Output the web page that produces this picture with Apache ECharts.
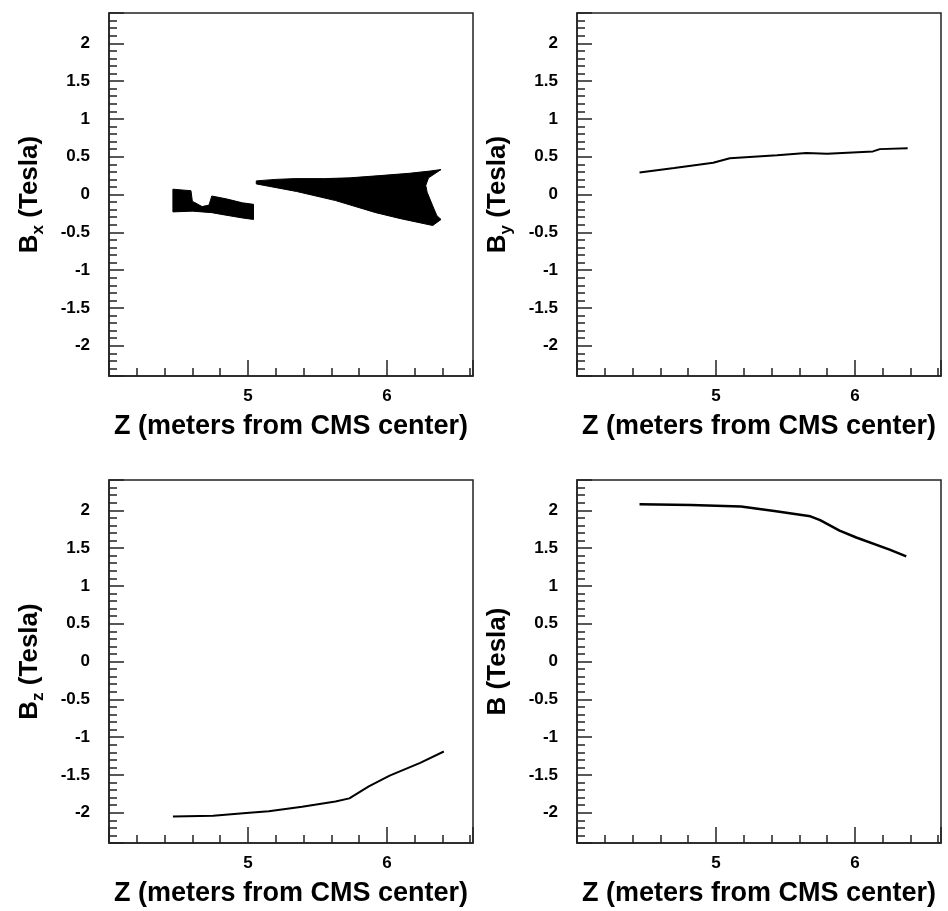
<!DOCTYPE html>
<html>
<head>
<meta charset="utf-8">
<title>CMS field components vs Z</title>
<script src="https://cdn.jsdelivr.net/npm/echarts@6/dist/echarts.min.js"></script>
<style>
  html, body { margin: 0; padding: 0; background: #fff; }
  #chart { width: 948px; height: 911px; }
</style>
</head>
<body>
<div id="chart"></div>
<script>
// Bx is drawn as two filled outlines (z, Tesla)
var bxBlobA = [[4.46, 0.07], [4.59, 0.05], [4.60, -0.09], [4.67, -0.16], [4.72, -0.14],
  [4.74, -0.02], [4.85, -0.06], [4.96, -0.11], [5.04, -0.13], [5.04, -0.33],
  [4.96, -0.31], [4.80, -0.26], [4.74, -0.24], [4.60, -0.22], [4.46, -0.23]];
var bxBlobB = [[5.06, 0.18], [5.20, 0.20], [5.34, 0.21], [5.55, 0.21], [5.73, 0.22],
  [5.95, 0.25], [6.16, 0.28], [6.31, 0.31], [6.39, 0.33], [6.30, 0.22], [6.28, 0.12],
  [6.29, 0.03], [6.33, -0.15], [6.36, -0.28], [6.39, -0.33], [6.33, -0.41],
  [6.10, -0.32], [5.92, -0.24], [5.63, -0.08], [5.35, 0.04], [5.06, 0.14]];
var bxShapes = [bxBlobA, bxBlobB];

var byLine = [[4.45, 0.29], [4.70, 0.35], [4.98, 0.42], [5.10, 0.48], [5.44, 0.52],
  [5.65, 0.55], [5.80, 0.54], [6.13, 0.57], [6.18, 0.60], [6.38, 0.61]];

var bzLine = [[4.46, -2.05], [4.75, -2.04], [5.01, -2.00], [5.15, -1.98], [5.39, -1.92],
  [5.63, -1.85], [5.73, -1.81], [5.87, -1.65], [6.02, -1.51], [6.24, -1.34], [6.41, -1.19]];

var bLine = [[4.45, 2.08], [4.82, 2.07], [5.18, 2.05], [5.42, 1.99], [5.68, 1.92],
  [5.75, 1.87], [5.89, 1.73], [6.01, 1.64], [6.25, 1.48], [6.37, 1.39]];

var yNames = ['{m|B}{s|x}{m| (Tesla)}', '{m|B}{s|y}{m| (Tesla)}',
  '{m|B}{s|z}{m| (Tesla)}', '{m|B (Tesla)}'];
var zRange = [4, 6.62];
var bRange = [-2.4, 2.4];

var font = 'Liberation Sans, Arial, Helvetica, sans-serif';
var frame = '#222';

var grids = [
  {left: 109, top: 13, width: 364, height: 363},
  {left: 577, top: 13, width: 364, height: 363},
  {left: 109, top: 480, width: 364, height: 363},
  {left: 577, top: 480, width: 364, height: 363}
];

function xAxisFor(i) {
  return {
    type: 'value',
    gridIndex: i,
    min: zRange[0],
    max: zRange[1],
    splitNumber: 3,
    name: 'Z (meters from CMS center)',
    nameLocation: 'middle',
    nameGap: 37,
    nameTextStyle: {color: '#000', fontFamily: font, fontWeight: 'bold', fontSize: 27},
    axisLine: {show: true, onZero: false, lineStyle: {color: frame, width: 1.5}},
    axisTick: {show: true, inside: true, length: 16, lineStyle: {color: frame, width: 1.5}},
    minorTick: {show: true, splitNumber: 5, length: 8, lineStyle: {color: frame, width: 1.5}},
    axisLabel: {
      showMinLabel: false, showMaxLabel: false, margin: 12,
      color: '#000', fontFamily: font, fontWeight: 'bold', fontSize: 17
    },
    splitLine: {show: false},
    minorSplitLine: {show: false}
  };
}

function yAxisFor(i) {
  return {
    type: 'value',
    gridIndex: i,
    min: bRange[0],
    max: bRange[1],
    splitNumber: 10,
    name: yNames[i],
    nameLocation: 'middle',
    nameRotate: 90,
    nameGap: 62,
    nameTextStyle: {
      rich: {
        m: {color: '#000', fontFamily: font, fontWeight: 'bold', fontSize: 26, lineHeight: 34},
        s: {color: '#000', fontFamily: font, fontWeight: 'bold', fontSize: 17, lineHeight: 17,
          verticalAlign: 'bottom'}
      }
    },
    axisLine: {show: true, onZero: false, lineStyle: {color: frame, width: 1.5}},
    axisTick: {show: true, inside: true, length: 15, lineStyle: {color: frame, width: 1.5}},
    minorTick: {show: true, splitNumber: 5, length: 8, lineStyle: {color: frame, width: 1.5}},
    axisLabel: {
      showMinLabel: false, showMaxLabel: false, margin: 19,
      color: '#000', fontFamily: font, fontWeight: 'bold', fontSize: 17
    },
    splitLine: {show: false},
    minorSplitLine: {show: false}
  };
}

function lineSeries(i, data, w) {
  return {
    type: 'line',
    xAxisIndex: i,
    yAxisIndex: i,
    data: data,
    showSymbol: false,
    symbol: 'none',
    lineStyle: {color: '#000', width: w},
    animation: false
  };
}

var mychart = echarts.init(document.getElementById('chart'), null, {renderer: 'canvas'});
var option = {
  backgroundColor: '#fff',
  animation: false,
  grid: grids.map(function (g) {
    return Object.assign({show: true, borderColor: frame, borderWidth: 1.5, backgroundColor: 'transparent'}, g);
  }),
  xAxis: [0, 1, 2, 3].map(xAxisFor),
  yAxis: [0, 1, 2, 3].map(yAxisFor),
  series: [
    {
      // filled Bx regions, outline points go through the axes with api.coord
      type: 'custom',
      xAxisIndex: 0,
      yAxisIndex: 0,
      data: bxShapes.map(function (s) { return s[0]; }),
      renderItem: function (params, api) {
        var pts = bxShapes[params.dataIndex].map(function (p) { return api.coord(p); });
        return {
          type: 'polygon',
          shape: {points: pts},
          style: {fill: '#000', stroke: '#000', lineWidth: 1}
        };
      },
      animation: false
    },
    lineSeries(1, byLine, 2),
    lineSeries(2, bzLine, 2),
    lineSeries(3, bLine, 2.5)
  ]
};
window.onresize = mychart.resize;
mychart.setOption(option);
</script>
</body>
</html>
